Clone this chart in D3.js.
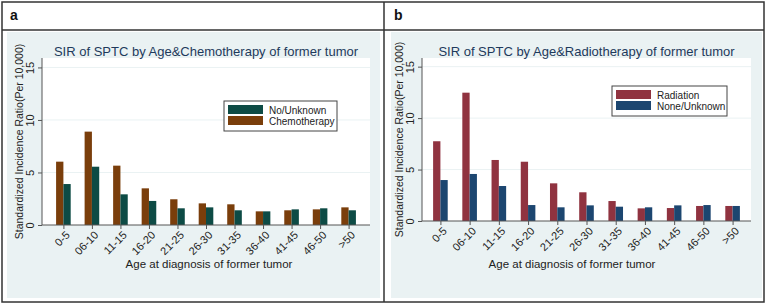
<!DOCTYPE html>
<html>
<head>
<meta charset="utf-8">
<script src="https://cdnjs.cloudflare.com/ajax/libs/d3/7.8.5/d3.min.js"></script>
<style>
  body { margin: 0; background: #fff; }
  svg { display: block; font-family: "Liberation Sans", Arial, sans-serif; }
</style>
</head>
<body>
<div id="graph"></div>
<script>
const ageGroups = ["0-5", "06-10", "11-15", "16-20", "21-25", "26-30", "31-35", "36-40", "41-45", "46-50", ">50"];
const yTicks = [0, 5, 10, 15];

// panel a
const chemoValues = [6.03, 8.89, 5.65, 3.49, 2.45, 2.06, 1.97, 1.30, 1.40, 1.49, 1.68];
const noChemoValues = [3.90, 5.55, 2.92, 2.29, 1.59, 1.68, 1.40, 1.30, 1.49, 1.59, 1.40];
// panel b
const radiationValues = [7.75, 12.47, 5.93, 5.76, 3.66, 2.79, 1.94, 1.23, 1.26, 1.46, 1.46];
const noRadiationValues = [3.98, 4.57, 3.40, 1.55, 1.33, 1.52, 1.39, 1.33, 1.52, 1.55, 1.46];

const w = 767;
const h = 306;
const svg = d3.select("#graph")
              .append("svg")
              .attr("width", w)
              .attr("height", h);

// outer frame and header row
svg.append("rect").attr("x", 2).attr("y", 2).attr("width", 762).attr("height", 300)
   .attr("fill", "none").attr("stroke", "#333").attr("stroke-width", 1.5);
svg.append("line").attr("x1", 2).attr("x2", 764).attr("y1", 30).attr("y2", 30)
   .attr("stroke", "#333").attr("stroke-width", 1.5);
svg.append("line").attr("x1", 384).attr("x2", 384).attr("y1", 2).attr("y2", 302)
   .attr("stroke", "#333").attr("stroke-width", 1.5);

function drawPanel(p) {
  const g = svg.append("g");

  g.append("text")
   .attr("x", p.bgLeft + 3).attr("y", 20)
   .attr("font-size", 14).attr("font-weight", "bold").attr("fill", "#111")
   .text(p.letter);

  g.append("rect")
   .attr("x", p.bgLeft).attr("y", 32)
   .attr("width", p.bgRight - p.bgLeft).attr("height", 266)
   .attr("fill", "#eaf2f3");

  g.append("rect")
   .attr("x", p.left).attr("y", p.top)
   .attr("width", p.right - p.left).attr("height", p.bottom - p.top)
   .attr("fill", "#fff");

  const xScale = d3.scalePoint()
                   .domain(ageGroups)
                   .range([p.left, p.right])
                   .padding(p.pad);
  const yScale = d3.scaleLinear()
                   .domain([0, p.yMax])
                   .range([p.bottom, p.top]);
  const bw = 7.3;

  // grid lines
  g.selectAll(".grid")
   .data(yTicks.filter((d) => d > 0))
   .enter()
   .append("line")
   .attr("x1", p.left).attr("x2", p.right)
   .attr("y1", (d) => yScale(d)).attr("y2", (d) => yScale(d))
   .attr("stroke", "#eaf2f3").attr("stroke-width", 1);

  p.series.forEach((s, i) => {
    g.selectAll(".bar" + i)
     .data(s.values)
     .enter()
     .append("rect")
     .attr("x", (d, j) => xScale(ageGroups[j]) - bw + i * bw)
     .attr("y", (d) => yScale(d))
     .attr("width", bw)
     .attr("height", (d) => p.bottom - yScale(d))
     .attr("fill", s.color);
  });

  const yAxis = d3.axisLeft(yScale).tickValues(yTicks).tickSize(4).tickPadding(3);
  const ya = g.append("g")
              .attr("transform", "translate(" + p.left + ",0)")
              .call(yAxis);
  ya.select(".domain").attr("d", "M0," + p.bottom + "V" + p.top).attr("stroke", "#555");
  ya.selectAll(".tick line").attr("stroke", "#555");
  ya.selectAll(".tick text")
    .attr("font-size", 11).attr("fill", "#222")
    .attr("text-anchor", "middle")
    .attr("dy", "0")
    .attr("transform", "rotate(-90)")
    .attr("x", 0).attr("y", -8);

  const xAxis = d3.axisBottom(xScale).tickSize(4).tickPadding(3);
  const xa = g.append("g")
              .attr("transform", "translate(0," + p.bottom + ")")
              .call(xAxis);
  xa.select(".domain").attr("d", "M" + p.left + ",0H" + p.right).attr("stroke", "#555");
  xa.selectAll(".tick line").attr("stroke", "#555");
  xa.selectAll(".tick text")
    .attr("font-size", 11).attr("fill", "#222")
    .attr("text-anchor", "end")
    .attr("dy", "0.35em")
    .attr("transform", "translate(4,8) rotate(-45)")
    .attr("y", 0).attr("x", 0);

  g.append("text")
   .attr("x", (p.left + p.right) / 2).attr("y", 56)
   .attr("text-anchor", "middle")
   .attr("font-size", 13).attr("fill", "#1e3a5c")
   .text(p.title);

  g.append("text")
   .attr("transform", "translate(" + (p.left - 19) + "," + ((p.top + p.bottom) / 2) + ") rotate(-90)")
   .attr("text-anchor", "middle")
   .attr("font-size", 10.5).attr("fill", "#222")
   .text("Standardized Incidence Ratio(Per 10,000)");

  g.append("text")
   .attr("x", p.xTitleX).attr("y", 268)
   .attr("text-anchor", "middle")
   .attr("font-size", 11.5).attr("fill", "#222")
   .text("Age at diagnosis of former tumor");

  // legend
  const lg = g.append("g").attr("transform", "translate(" + p.legX + "," + p.legY + ")");
  lg.append("rect").attr("width", p.legW).attr("height", 30)
    .attr("fill", "#fff").attr("stroke", "#444").attr("stroke-width", 1);
  p.legend.forEach((s, i) => {
    lg.append("rect").attr("x", 4).attr("y", 4 + i * 11).attr("width", 35).attr("height", 9)
      .attr("fill", s.color);
    lg.append("text").attr("x", 45).attr("y", 12.5 + i * 11)
      .attr("font-size", 10).attr("fill", "#222")
      .text(s.name);
  });
}

const brown = "#7a3e0b";
const teal = "#0d4b45";
const maroon = "#903340";
const navy = "#1c4670";

drawPanel({
  letter: "a",
  bgLeft: 7, bgRight: 380,
  left: 42, right: 370, top: 58, bottom: 225,
  yMax: 15.9, pad: 0.75,
  title: "SIR of SPTC by Age&Chemotherapy of former tumor",
  xTitleX: 209,
  series: [{ values: chemoValues, color: brown }, { values: noChemoValues, color: teal }],
  legend: [{ name: "No/Unknown", color: teal }, { name: "Chemotherapy", color: brown }],
  legX: 224, legY: 101, legW: 113
});

drawPanel({
  letter: "b",
  bgLeft: 391, bgRight: 762,
  left: 422, right: 751, top: 58, bottom: 221,
  yMax: 15.84, pad: 0.63,
  title: "SIR of SPTC by Age&Radiotherapy of former tumor",
  xTitleX: 572,
  series: [{ values: radiationValues, color: maroon }, { values: noRadiationValues, color: navy }],
  legend: [{ name: "Radiation", color: maroon }, { name: "None/Unknown", color: navy }],
  legX: 612, legY: 86, legW: 115
});
</script>
</body>
</html>
